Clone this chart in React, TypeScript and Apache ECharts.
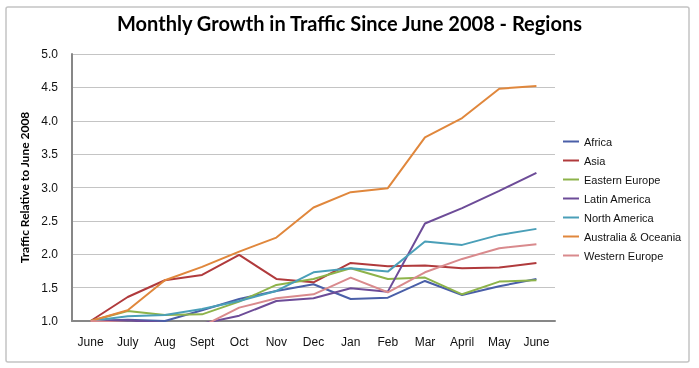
import React, { useEffect, useRef } from "react";
import * as echarts from "echarts";

const months = ["June", "July", "Aug", "Sept", "Oct", "Nov", "Dec", "Jan", "Feb", "Mar", "April", "May", "June"];
const yTicks = [1.0, 1.5, 2.0, 2.5, 3.0, 3.5, 4.0, 4.5, 5.0];

const africa = [1.0, 1.02, 1.0, 1.16, 1.33, 1.45, 1.55, 1.33, 1.35, 1.6, 1.39, 1.52, 1.63];
const asia = [1.0, 1.36, 1.61, 1.69, 1.99, 1.63, 1.58, 1.87, 1.82, 1.83, 1.79, 1.8, 1.87];
const easternEurope = [1.0, 1.15, 1.09, 1.1, 1.29, 1.54, 1.63, 1.79, 1.63, 1.65, 1.4, 1.59, 1.61];
const latinAmerica = [1.0, 1.01, 0.97, 0.96, 1.08, 1.3, 1.34, 1.49, 1.44, 2.46, 2.69, 2.95, 3.22];
const northAmerica = [1.0, 1.07, 1.09, 1.18, 1.3, 1.45, 1.73, 1.79, 1.74, 2.19, 2.14, 2.29, 2.38];
const australiaOceania = [1.0, 1.16, 1.61, 1.81, 2.04, 2.25, 2.7, 2.93, 2.99, 3.75, 4.04, 4.48, 4.52];
const westernEurope = [1.0, 0.97, 0.94, 0.92, 1.2, 1.34, 1.4, 1.65, 1.43, 1.73, 1.93, 2.09, 2.15];

const seriesNames = ["Africa", "Asia", "Eastern Europe", "Latin America", "North America", "Australia & Oceania", "Western Europe"];
const seriesData = [africa, asia, easternEurope, latinAmerica, northAmerica, australiaOceania, westernEurope];
const colors = ["#4a5fa8", "#b03a3c", "#8db34a", "#6d4c98", "#4a9fb8", "#e0873c", "#d98a8d"];

export default function App() {
  const ref = useRef<HTMLDivElement>(null);
  useEffect(() => {
    if (!ref.current) return;
    const chart = echarts.init(ref.current, undefined, { renderer: "svg" });
    chart.setOption({
      animation: false,
      color: colors,
      title: {
        text: "Monthly Growth in Traffic Since June 2008 - Regions",
        left: "center",
        top: 8,
        textStyle: { fontFamily: "Lato", fontWeight: "bold", fontSize: 20, color: "#000" },
      },
      graphic: [
        {
          type: "rect",
          shape: { x: 6, y: 7, width: 683, height: 355, r: 2 },
          style: { fill: "none", stroke: "#c4c4c4", lineWidth: 1.5 },
          silent: true,
        },
      ],
      legend: {
        orient: "vertical",
        left: 558,
        top: 131,
        itemWidth: 16,
        itemHeight: 14,
        itemGap: 8,
        icon: "path://M0,6 L16,6 L16,8 L0,8 Z",
        textStyle: { fontFamily: "Liberation Sans", fontSize: 11, color: "#111" },
        data: seriesNames,
      },
      grid: { left: 72, right: 144, top: 54, bottom: 47 },
      xAxis: {
        type: "category",
        data: months,
        boundaryGap: true,
        axisLine: { lineStyle: { color: "#878787", width: 2 } },
        axisTick: { show: false },
        axisLabel: { fontFamily: "Liberation Sans", fontSize: 12, color: "#111", margin: 15 },
        splitLine: { show: false },
      },
      yAxis: {
        type: "value",
        min: yTicks[0],
        max: yTicks[yTicks.length - 1],
        interval: 0.5,
        name: "Traffic Relative to June 2008",
        nameLocation: "middle",
        nameGap: 42,
        nameTextStyle: { fontFamily: "Lato", fontWeight: "bold", fontSize: 12, color: "#000" },
        axisLine: { show: true, lineStyle: { color: "#878787", width: 2 } },
        axisTick: { show: false },
        axisLabel: {
          fontFamily: "Liberation Sans",
          fontSize: 12,
          color: "#111",
          margin: 14,
          formatter: (v: number) => v.toFixed(1),
        },
        splitLine: { lineStyle: { color: "#c4c4c4", width: 1 } },
      },
      series: seriesNames.map((name, i) => ({
        name,
        type: "line",
        data: seriesData[i],
        symbol: "none",
        clip: true,
        lineStyle: { width: 2 },
      })),
    });
    return () => chart.dispose();
  }, []);
  return <div ref={ref} style={{ position: "fixed", left: 0, top: 0, width: 699, height: 368 }} />;
}
